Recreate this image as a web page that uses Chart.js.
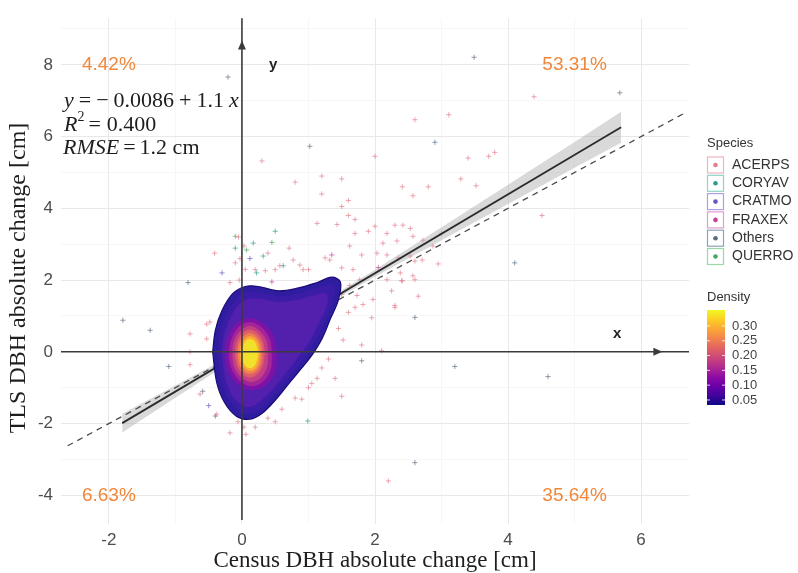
<!DOCTYPE html>
<html>
<head>
<meta charset="utf-8">
<script src="https://cdn.jsdelivr.net/npm/chart.js@4.4.1/dist/chart.umd.min.js"></script>
<style>
  html, body { margin: 0; padding: 0; background: #fff; }
  #wrap { width: 798px; height: 573px; }
</style>
</head>
<body>
<div id="wrap"><canvas id="dbhChart" width="798" height="573"></canvas></div>
<script>
'use strict';

// axis ranges and gridline positions (cm)
const xRange = [-2.72, 6.72];
const yRange = [-4.8, 9.3];
const xTicks = [-2, -1, 0, 1, 2, 3, 4, 5, 6];
const yTicks = [-4, -3, -2, -1, 0, 1, 2, 3, 4, 5, 6, 7, 8, 9];

// trees per species: [census change, TLS change]
const acerps = [
  [2.6, 6.47], [3.11, 6.61], [4.39, 7.11], [3.4, 5.4], [3.71, 5.45], [3.8, 5.56], [3.29, 4.82],
  [3.52, 4.63], [2.57, 4.35], [2.8, 4.6], [2.41, 4.6], [0.3, 5.32], [1.2, 4.9], [1.5, 4.82],
  [0.8, 4.73], [1.2, 4.4], [1.6, 4.22], [2.0, 5.45], [1.5, 4.05], [1.6, 3.8], [1.7, 3.69],
  [1.13, 3.58], [1.43, 3.55], [1.7, 3.3], [2.0, 3.5], [1.9, 3.36], [2.3, 3.53], [2.42, 3.53],
  [2.53, 3.44], [2.18, 3.3], [2.12, 3.03], [2.33, 3.09], [2.57, 3.22], [2.72, 3.11], [2.87, 2.95],
  [1.62, 2.95], [1.8, 2.7], [2.03, 2.75], [2.18, 2.7], [2.35, 2.62], [2.53, 2.67], [2.6, 2.53],
  [2.71, 2.56], [1.32, 2.56], [1.25, 2.62], [0.87, 2.42], [1.0, 2.29], [1.5, 2.34], [1.67, 2.29],
  [2.38, 2.2], [2.57, 2.12], [2.18, 2.01], [2.41, 1.98], [1.77, 2.01], [1.62, 1.85], [1.73, 1.57],
  [1.97, 1.46], [2.3, 1.29], [2.6, 2.01], [0.39, 2.75], [0.71, 2.89], [0.77, 2.56], [0.92, 2.29],
  [0.5, 2.29], [0.2, 2.29], [0.35, 2.26], [0.57, 2.4], [-0.05, 3.2], [0.03, 2.95], [-0.03, 2.6],
  [0.05, 2.3], [-0.04, 2.0], [-0.1, 2.48], [-0.18, 1.93], [-0.41, 2.75], [-0.48, 0.83], [-0.53, 0.36],
  [-0.53, 0.77], [-0.78, 0.5], [-0.78, 0.0], [-0.78, -0.36], [-0.63, -1.18], [-0.38, -1.74],
  [-0.18, -2.26], [-0.06, -1.95], [0.03, -2.1], [0.39, -1.85], [0.8, -1.29], [0.9, -1.32],
  [1.05, -0.88], [1.13, -0.74], [1.4, -0.74], [1.5, -1.24], [1.8, 0.19], [2.1, 0.03], [1.52, 0.33],
  [1.7, 1.24], [2.3, 1.24], [1.82, 1.32], [1.5, 1.6], [1.6, 1.1], [1.45, 0.65], [1.3, -0.2],
  [2.2, -3.6], [4.51, 3.8], [2.4, 1.98], [0.6, -1.6], [0.5, -1.95], [0.2, -2.1], [1.0, -1.0],
  [1.2, -0.45], [2.95, 2.45], [2.25, 1.7], [1.95, 0.95], [2.65, 1.55], [3.0, 3.3], [0.06, -2.3]
];
const coryav = [[0.5, 3.36], [0.62, 2.4], [0.32, 2.67], [0.17, 3.03], [0.99, -1.93], [-0.1, 2.89], [0.22, 2.2]];
const cratmo = [[-0.5, -1.5], [0.12, 2.6], [-0.3, 2.2]];
const fraxex = [[1.35, 2.7], [2.05, 2.35], [0.45, 1.95]];
const others = [
  [3.49, 8.21], [5.68, 7.22], [2.9, 5.84], [1.02, 5.73], [-0.21, 7.66], [-0.81, 1.93], [-1.38, 0.6],
  [-1.79, 0.88], [-1.1, -0.41], [3.2, -0.41], [4.6, -0.69], [2.6, -3.09], [4.1, 2.48], [1.8, -0.25],
  [2.6, 0.96], [-0.59, -1.1], [-0.4, -1.79]
];
const querro = [[0.07, 2.84], [0.45, 3.05], [-0.1, 3.22]];

const speciesNames = ['ACERPS', 'CORYAV', 'CRATMO', 'FRAXEX', 'Others', 'QUERRO'];
const speciesPoints = [acerps, coryav, cratmo, fraxex, others, querro];
const speciesColors = ['#e47d8b', '#2f9d8b', '#6558c6', '#c2449a', '#5b6d80', '#46a85a'];
const speciesKeyEdge = ['#f3b3bd', '#8fd2c6', '#aaa2e6', '#e59ccb', '#8da3b8', '#9bd8a7'];

// linear fit and its confidence band
const fitIntercept = -0.0086;
const fitSlope = 1.1;
const fitSpan = [-1.8, 5.7];
const bandX  = [-1.8, -1, 0, 1, 2, 3, 4, 5, 5.7];
const bandHi = [-1.73, -0.94, 0.06, 1.15, 2.29, 3.47, 4.66, 5.85, 6.69];
const bandLo = [-2.25, -1.28, -0.08, 1.03, 2.09, 3.11, 4.12, 5.13, 5.83];

// 1:1 reference
const oneToOne = [-2.62, 6.63];

// 2D density bands, outermost first
const densityColors = ['#2e1d9e', '#3b1ca6', '#5220ad', '#7d12a6', '#a32598', '#c43f84',
                       '#dd5e6a', '#ef8150', '#fbaa36', '#f2e12b'];
const contours = [
  [[-0.44, 0.0], [-0.4, 0.6], [-0.3, 1.15], [-0.14, 1.62], [0.05, 1.82], [0.25, 1.82], [0.55, 1.7],
   [0.85, 1.78], [1.13, 1.93], [1.35, 2.08], [1.48, 1.95], [1.45, 1.45], [1.33, 0.92], [1.2, 0.35],
   [1.05, -0.1], [0.9, -0.45], [0.72, -0.85], [0.5, -1.35], [0.3, -1.72], [0.12, -1.88], [-0.08, -1.8],
   [-0.26, -1.42], [-0.38, -0.85], [-0.44, 0.0]],
  [[-0.36, 0.0], [-0.32, 0.55], [-0.23, 1.05], [-0.09, 1.48], [0.07, 1.66], [0.25, 1.66], [0.55, 1.55],
   [0.85, 1.62], [1.12, 1.77], [1.32, 1.88], [1.39, 1.78], [1.36, 1.4], [1.25, 0.9], [1.12, 0.35],
   [0.97, -0.08], [0.82, -0.45], [0.64, -0.85], [0.44, -1.3], [0.26, -1.6], [0.11, -1.72], [-0.04, -1.64],
   [-0.2, -1.3], [-0.31, -0.8], [-0.36, 0.0]],
  [[-0.3, 0.0], [-0.26, 0.5], [-0.17, 0.95], [-0.05, 1.3], [0.1, 1.47], [0.27, 1.47], [0.55, 1.38],
   [0.85, 1.45], [1.1, 1.58], [1.26, 1.62], [1.28, 1.35], [1.17, 0.88], [1.03, 0.35], [0.88, -0.05],
   [0.73, -0.42], [0.56, -0.82], [0.38, -1.2], [0.22, -1.45], [0.1, -1.54], [-0.02, -1.46], [-0.16, -1.16],
   [-0.25, -0.7], [-0.3, 0.0]],
  [[0.52, -0.05], [0.47, 0.44], [0.31, 0.8], [0.12, 0.93], [-0.07, 0.8], [-0.2, 0.44], [-0.25, -0.05],
   [-0.2, -0.54], [-0.05, -0.92], [0.16, -1.06], [0.36, -0.92], [0.5, -0.54], [0.52, -0.05]],
  [[0.45, -0.05], [0.41, 0.38], [0.28, 0.7], [0.12, 0.82], [-0.04, 0.7], [-0.15, 0.38], [-0.19, -0.05],
   [-0.15, -0.48], [-0.02, -0.82], [0.15, -0.95], [0.32, -0.82], [0.43, -0.48], [0.45, -0.05]],
  [[0.39, -0.05], [0.36, 0.33], [0.25, 0.6], [0.12, 0.71], [-0.01, 0.6], [-0.11, 0.33], [-0.14, -0.05],
   [-0.11, -0.43], [0.0, -0.72], [0.14, -0.83], [0.28, -0.72], [0.37, -0.43], [0.39, -0.05]],
  [[0.34, -0.05], [0.31, 0.28], [0.23, 0.52], [0.12, 0.61], [0.01, 0.52], [-0.07, 0.28], [-0.1, -0.05],
   [-0.07, -0.38], [0.01, -0.62], [0.12, -0.71], [0.23, -0.62], [0.31, -0.38], [0.34, -0.05]],
  [[0.3, -0.05], [0.28, 0.23], [0.21, 0.44], [0.12, 0.51], [0.03, 0.44], [-0.04, 0.23], [-0.06, -0.05],
   [-0.04, -0.33], [0.03, -0.54], [0.12, -0.61], [0.21, -0.54], [0.28, -0.33], [0.3, -0.05]],
  [[0.27, -0.05], [0.25, 0.19], [0.2, 0.37], [0.12, 0.43], [0.05, 0.37], [-0.01, 0.19], [-0.03, -0.05],
   [-0.01, -0.29], [0.05, -0.47], [0.12, -0.53], [0.2, -0.47], [0.25, -0.29], [0.27, -0.05]],
  [[0.24, -0.05], [0.22, 0.15], [0.18, 0.3], [0.12, 0.35], [0.06, 0.3], [0.02, 0.15], [0.0, -0.05],
   [0.02, -0.25], [0.06, -0.4], [0.12, -0.45], [0.18, -0.4], [0.22, -0.25], [0.24, -0.05]]
];
const densityTicks = [0.05, 0.10, 0.15, 0.20, 0.25, 0.30];
const densityScale = [0.033, 0.354];

// share of trees per quadrant, placed at [x, y]
const quadrantLabels = ['4.42%', '53.31%', '6.63%', '35.64%'];
const quadrantAt = [[-2, 8], [5, 8], [-2, -4], [5, -4]];

const plasma = ['#0d0887', '#41049d', '#6a00a8', '#8f0da4', '#b12a90', '#cc4778',
                '#e16462', '#f2844b', '#fca636', '#fcce25', '#f0f921'];

const toXY = pts => pts.map(p => ({ x: p[0], y: p[1] }));

const datasets = [];

contours.slice().reverse().forEach((poly, i) => {
  const lvl = contours.length - 1 - i;
  datasets.push({
    type: 'line',
    data: toXY(poly),
    backgroundColor: densityColors[lvl],
    borderColor: lvl === 0 ? '#1c0b78' : densityColors[lvl],
    borderWidth: lvl === 0 ? 1.2 : 0.6,
    fill: 'shape',
    tension: 0.35,
    pointRadius: 0,
    order: i
  });
});

datasets.push({
  type: 'line',
  data: fitSpan.map(v => ({ x: v, y: fitIntercept + fitSlope * v })),
  borderColor: '#2b2b2b',
  borderWidth: 1.8,
  pointRadius: 0,
  fill: false,
  order: 20
});
datasets.push({
  type: 'line',
  data: oneToOne.map(v => ({ x: v, y: v })),
  borderColor: '#4a4a4a',
  borderWidth: 1.3,
  borderDash: [6, 5],
  pointRadius: 0,
  fill: false,
  order: 21
});
const bandIndex = datasets.length;
datasets.push({
  type: 'line',
  data: bandX.map((v, i) => ({ x: v, y: bandHi[i] })),
  borderWidth: 0,
  pointRadius: 0,
  backgroundColor: 'rgba(165,165,165,0.42)',
  fill: bandIndex + 1,
  order: 22
});
datasets.push({
  type: 'line',
  data: bandX.map((v, i) => ({ x: v, y: bandLo[i] })),
  borderWidth: 0,
  pointRadius: 0,
  fill: false,
  order: 23
});

speciesPoints.forEach((pts, i) => {
  datasets.push({
    type: 'scatter',
    label: speciesNames[i],
    data: toXY(pts),
    pointStyle: 'cross',
    pointRadius: 2.6,
    borderWidth: 1,
    borderColor: speciesColors[i] + 'a8',
    backgroundColor: speciesColors[i] + 'a8',
    order: 30 + i
  });
});

// lays out a line of math tokens left to right: [text, style]
function drawMathLine(ctx, tokens, x, y, gap) {
  let cx = x;
  tokens.forEach(([text, style, g]) => {
    if (style === 'sup') {
      ctx.font = '14px "Liberation Serif", serif';
      ctx.fillText(text, cx, y - 8);
    } else {
      ctx.font = (style === 'i' ? 'italic ' : '') + '22px "Liberation Serif", serif';
      ctx.fillText(text, cx, y);
    }
    cx += ctx.measureText(text).width + (g === undefined ? gap : g);
  });
}

const overlay = {
  id: 'overlay',
  afterDatasetsDraw(chart) {
    const { ctx, chartArea: a, scales: { x, y } } = chart;
    const x0 = x.getPixelForValue(0);
    const y0 = y.getPixelForValue(0);
    ctx.save();
    ctx.strokeStyle = '#3b3b3b';
    ctx.fillStyle = '#3b3b3b';
    ctx.lineWidth = 1.6;
    ctx.beginPath();
    ctx.moveTo(a.left, y0);
    ctx.lineTo(a.right, y0);
    ctx.moveTo(x0, a.top);
    ctx.lineTo(x0, a.bottom - 4);
    ctx.stroke();

    // arrow heads
    const ty = y.getPixelForValue(8.68);
    ctx.beginPath();
    ctx.moveTo(x0, ty);
    ctx.lineTo(x0 - 4, ty + 9);
    ctx.lineTo(x0 + 4, ty + 9);
    ctx.closePath();
    ctx.fill();
    const tx = x.getPixelForValue(6.32);
    ctx.beginPath();
    ctx.moveTo(tx, y0);
    ctx.lineTo(tx - 9, y0 - 4);
    ctx.lineTo(tx - 9, y0 + 4);
    ctx.closePath();
    ctx.fill();

    ctx.fillStyle = '#222';
    ctx.font = 'bold 15px "Liberation Sans", Arial, sans-serif';
    ctx.textAlign = 'center';
    ctx.textBaseline = 'middle';
    ctx.fillText('y', x.getPixelForValue(0.47), y.getPixelForValue(8.0));
    ctx.fillText('x', x.getPixelForValue(5.64), y.getPixelForValue(0.5));

    ctx.fillStyle = '#f0873a';
    ctx.font = '19px "Liberation Sans", Arial, sans-serif';
    quadrantLabels.forEach((t, i) => {
      ctx.fillText(t, x.getPixelForValue(quadrantAt[i][0]), y.getPixelForValue(quadrantAt[i][1]));
    });
    ctx.restore();
  },
  afterDraw(chart) {
    const { ctx, chartArea: a } = chart;
    ctx.save();

    // fit statistics
    ctx.fillStyle = '#1e1e1e';
    ctx.textAlign = 'left';
    ctx.textBaseline = 'middle';
    drawMathLine(ctx, [['y', 'i'], ['='], ['\u2212'], ['0.0086'], ['+'], ['1.1'], ['x', 'i']], 64, 101, 5);
    drawMathLine(ctx, [['R', 'i', 0], ['2', 'sup', 4], ['='], ['0.400']], 64, 125, 6);
    drawMathLine(ctx, [['RMSE', 'i'], ['='], ['1.2 cm']], 63, 148, 4);

    // axis titles
    ctx.fillStyle = '#1e1e1e';
    ctx.font = '23px "Liberation Serif", serif';
    ctx.textAlign = 'center';
    ctx.fillText('Census DBH absolute change [cm]', (a.left + a.right) / 2, 561);
    ctx.save();
    ctx.translate(19, 278);
    ctx.rotate(-Math.PI / 2);
    ctx.font = '24px "Liberation Serif", serif';
    ctx.fillText('TLS DBH absolute change [cm]', 0, 0);
    ctx.restore();

    // species legend
    const lx = 707;
    ctx.textAlign = 'left';
    ctx.fillStyle = '#333';
    ctx.font = '13px "Liberation Sans", Arial, sans-serif';
    ctx.fillText('Species', lx, 143);
    ctx.font = '14px "Liberation Sans", Arial, sans-serif';
    speciesNames.forEach((name, i) => {
      const cy = 165 + i * 18.3;
      ctx.strokeStyle = speciesKeyEdge[i];
      ctx.lineWidth = 1.2;
      ctx.strokeRect(lx + 0.5, cy - 8, 16, 16);
      ctx.fillStyle = speciesColors[i];
      ctx.beginPath();
      ctx.arc(lx + 8.5, cy, 2.3, 0, Math.PI * 2);
      ctx.fill();
      ctx.fillStyle = '#333';
      ctx.fillText(name, lx + 25, cy);
    });

    // density colour bar
    ctx.font = '13px "Liberation Sans", Arial, sans-serif';
    ctx.fillText('Density', lx, 297);
    const top = 310, bot = 405;
    const grad = ctx.createLinearGradient(0, bot, 0, top);
    plasma.forEach((c, i) => grad.addColorStop(i / (plasma.length - 1), c));
    ctx.fillStyle = grad;
    ctx.fillRect(lx, top, 18, bot - top);
    const [dLo, dHi] = densityScale;
    densityTicks.forEach(v => {
      const py = bot - (v - dLo) / (dHi - dLo) * (bot - top);
      ctx.strokeStyle = 'rgba(255,255,255,0.8)';
      ctx.lineWidth = 1;
      ctx.beginPath();
      ctx.moveTo(lx, py); ctx.lineTo(lx + 3, py);
      ctx.moveTo(lx + 15, py); ctx.lineTo(lx + 18, py);
      ctx.stroke();
      ctx.fillStyle = '#444';
      ctx.fillText(v.toFixed(2), lx + 25, py);
    });
    ctx.restore();
  }
};

const gridColor = c => (c.tick && c.tick.value % 2 === 0) ? '#e8e8e8' : '#f3f3f3';
const gridWidth = c => (c.tick && c.tick.value % 2 === 0) ? 1 : 0.7;
const tickFont = { family: '"Liberation Sans", Arial, sans-serif', size: 17 };

new Chart(document.getElementById('dbhChart'), {
  type: 'scatter',
  data: { datasets },
  options: {
    responsive: false,
    animation: false,
    events: [],
    layout: { padding: { top: 12, right: 109, left: 0, bottom: 0 } },
    plugins: { legend: { display: false }, tooltip: { enabled: false } },
    scales: {
      x: {
        type: 'linear',
        min: xRange[0],
        max: xRange[1],
        afterBuildTicks: s => { s.ticks = xTicks.map(v => ({ value: v })); },
        afterFit: s => { s.height = 49; },
        ticks: {
          autoSkip: false,
          maxRotation: 0,
          padding: 6,
          color: '#4d4d4d',
          font: tickFont,
          callback: v => (v % 2 === 0 ? String(v) : '')
        },
        grid: { color: gridColor, lineWidth: gridWidth, drawTicks: false },
        border: { display: false }
      },
      y: {
        type: 'linear',
        min: yRange[0],
        max: yRange[1],
        afterBuildTicks: s => { s.ticks = yTicks.map(v => ({ value: v })); },
        afterFit: s => { s.width = 61; },
        ticks: {
          autoSkip: false,
          padding: 8,
          color: '#4d4d4d',
          font: tickFont,
          callback: v => (v % 2 === 0 ? String(v) : '')
        },
        grid: { color: gridColor, lineWidth: gridWidth, drawTicks: false },
        border: { display: false }
      }
    }
  },
  plugins: [overlay]
});
</script>
</body>
</html>
